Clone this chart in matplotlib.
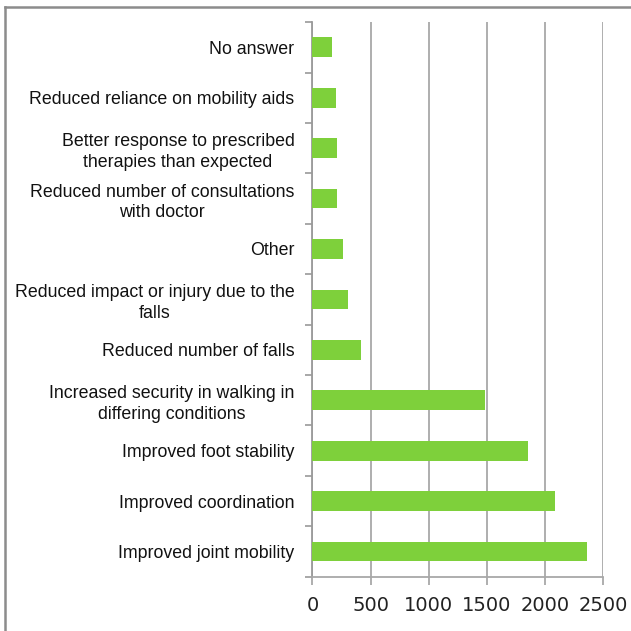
import matplotlib
matplotlib.use('Agg')
import matplotlib.pyplot as plt
from matplotlib.lines import Line2D
import numpy as np

categories = ['Improved joint mobility', 'Improved coordination', 'Improved foot stability',
              'Increased security in walking in\ndiffering conditions', 'Reduced number of falls',
              'Reduced impact or injury due to the\nfalls', 'Other',
              'Reduced number of consultations\nwith doctor',
              'Better response to prescribed\ntherapies than expected',
              'Reduced reliance on mobility aids', 'No answer']
values = [2357, 2085, 1850, 1483, 421, 309, 261, 215, 215, 203, 166]
xticks = [0, 500, 1000, 1500, 2000, 2500]

grey = '#9a9a9a'
fig = plt.figure(figsize=(6.31, 6.31), dpi=100)
ax = fig.add_axes([0.4952, 0.086, 0.461, 0.879])

y = np.arange(len(categories))
ax.barh(y, values, height=0.39, color='#7ed03b', zorder=3)

ax.set_xlim(0, 2500)
ax.set_ylim(-0.5, len(categories) - 0.5)
ax.set_xticks(xticks)
ax.set_xticklabels([str(t) for t in xticks], fontsize=14, color='#222222')
ax.xaxis.grid(True, color='#a8a8a8', linewidth=1.3, zorder=0)

ax.set_yticks(y)
ax.set_yticklabels(categories, fontsize=12.8, family='Liberation Sans', color='#111111',
                   multialignment='center', linespacing=1.3)
ax.set_yticks(np.arange(len(categories) + 1) - 0.5, minor=True)
ax.tick_params(axis='y', which='major', length=0, pad=13)
ax.tick_params(axis='y', which='minor', length=5, color=grey, width=1.2)
ax.tick_params(axis='x', length=6, color='#a8a8a8', width=1.3, pad=8)

for s in ['top', 'right']:
    ax.spines[s].set_visible(False)
ax.spines['left'].set_color(grey)
ax.spines['bottom'].set_color('#a8a8a8')
ax.spines['left'].set_linewidth(1.3)
ax.spines['bottom'].set_linewidth(1.3)

# outer frame (top and left edges only visible)
fig.add_artist(Line2D([4.5 / 631, 4.5 / 631], [0, 1 - 6.5 / 631], transform=fig.transFigure,
                      color='#8c8c8c', linewidth=1.8))
fig.add_artist(Line2D([4.5 / 631, 1], [1 - 6.5 / 631, 1 - 6.5 / 631], transform=fig.transFigure,
                      color='#8c8c8c', linewidth=1.8))

fig.savefig('out.png', dpi=100)
